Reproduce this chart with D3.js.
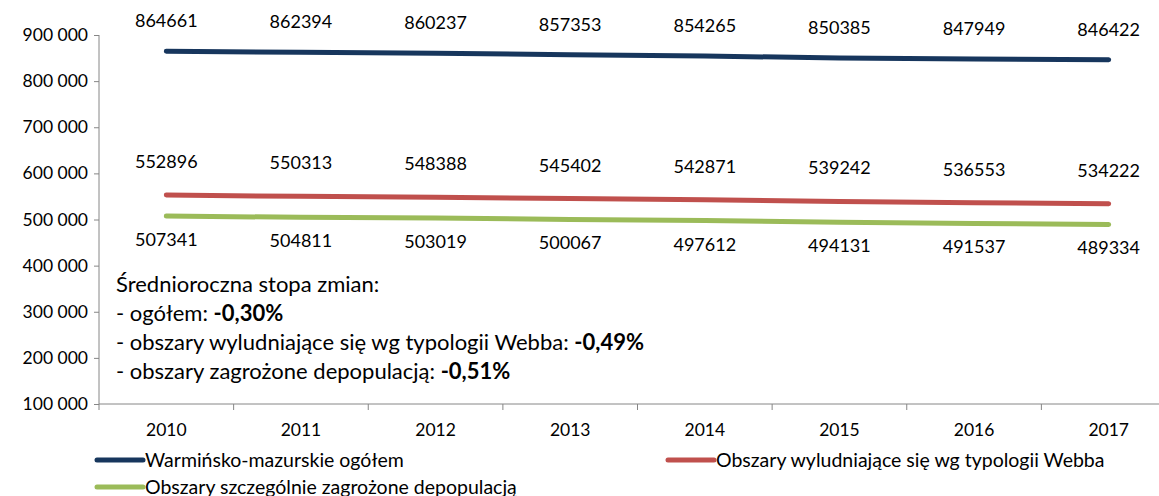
<!DOCTYPE html>
<html><head><meta charset="utf-8">
<script src="https://cdn.jsdelivr.net/npm/d3@7"></script>
<style>body{margin:0;background:#fff}svg{display:block}text{font-family:Lato,"Open Sans",sans-serif;fill:#000}</style>
</head><body><svg id="c" width="1159" height="496"></svg>
<script>
const years = ["2010","2011","2012","2013","2014","2015","2016","2017"];
const totalVals = [864661,862394,860237,857353,854265,850385,847949,846422];
const webbVals = [552896,550313,548388,545402,542871,539242,536553,534222];
const depopVals = [507341,504811,503019,500067,497612,494131,491537,489334];
const yTicks = [100000,200000,300000,400000,500000,600000,700000,800000,900000];
const seriesNames = ["Warmińsko-mazurskie ogółem","Obszary wyludniające się wg typologii Webba","Obszary szczególnie zagrożone depopulacją"];
const colors = ["#17365D","#C0504D","#9BBB59"];
const noteLines = [["Średnioroczna stopa zmian:",""],["- ogółem: ","-0,30%"],["- obszary wyludniające się wg typologii Webba: ","-0,49%"],["- obszary zagrożone depopulacją: ","-0,51%"]];

const svg = d3.select("#c");
const x = d3.scaleBand().domain(years).range([99, 1176]);
const y = d3.scaleLinear().domain([100000,900000]).range([404,35]);
const fs = 17.5;

// y axis
const ya = svg.append("g").attr("transform","translate(99,0)")
  .call(d3.axisLeft(y).tickValues(yTicks).tickSize(5).tickPadding(6)
  .tickFormat(d=>d3.format(",")(d).replace(/,/g," ")));
ya.selectAll("text").style("font-size",fs+"px").style("font-family","Lato");
ya.selectAll("line,path").attr("stroke","#868686");
ya.select("path").attr("d","M0,35V404");

// x axis
const xa = svg.append("g").attr("transform","translate(0,404)");
xa.append("line").attr("x1",99).attr("x2",1176).attr("stroke","#868686");
xa.selectAll("line.t").data(years.concat(["end"])).join("line").attr("class","t")
  .attr("x1",(d,i)=>99+i*x.bandwidth()).attr("x2",(d,i)=>99+i*x.bandwidth())
  .attr("y1",0).attr("y2",6).attr("stroke","#868686");
xa.selectAll("text").data(years).join("text")
  .attr("x",d=>x(d)+x.bandwidth()/2).attr("y",32).attr("text-anchor","middle")
  .style("font-size",fs+"px").text(d=>d);

const cx = d => x(d)+x.bandwidth()/2;
const line = d3.line().x((d,i)=>cx(years[i])).y(d=>y(d));
const all = [totalVals, webbVals, depopVals];
const offs = [-24, -27, 30];
all.forEach((vals,k)=>{
  svg.append("path").datum(vals).attr("d",line).attr("fill","none")
    .attr("stroke",colors[k]).attr("stroke-width",5).attr("stroke-linecap","round");
  svg.append("g").selectAll("text").data(vals).join("text")
    .attr("x",(d,i)=>cx(years[i])).attr("y",d=>y(d)+offs[k]).attr("text-anchor","middle")
    .style("font-size","18px").text(d=>d);
});

// note
const note = svg.append("g");
noteLines.forEach((l,i)=>{
  const t = note.append("text").attr("x",116).attr("y",292+i*29).style("font-size","22px");
  t.append("tspan").text(l[0]);
  if(l[1]) t.append("tspan").style("font-weight","bold").text(l[1]);
});

// legend
const leg = [[97,460],[668,460],[97,487]];
seriesNames.forEach((n,k)=>{
  const g = svg.append("g").attr("transform",`translate(${leg[k][0]},${leg[k][1]})`);
  g.append("line").attr("x1",0).attr("x2",46).attr("stroke",colors[k]).attr("stroke-width",5).attr("stroke-linecap","round");
  g.append("text").attr("x",48).attr("y",6.5).style("font-size","19.5px").text(n);
});
</script></body></html>
